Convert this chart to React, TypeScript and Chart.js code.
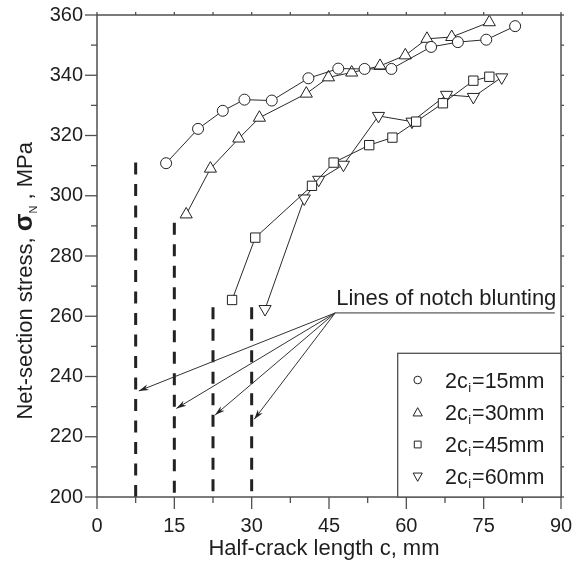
import React, { useEffect, useRef } from 'react';
import { Chart, registerables } from 'chart.js';

Chart.register(...registerables);

// ---------- data ----------
const xMajorTicks = [0, 15, 30, 45, 60, 75, 90];
const yMajorTicks = [200, 220, 240, 260, 280, 300, 320, 340, 360];

const c15 = [13.4, 19.6, 24.4, 28.6, 33.9, 41.0, 46.8, 51.9, 57.1, 64.8, 70.0, 75.5, 81.1];
const s15 = [310.8, 322.2, 328.2, 331.9, 331.6, 339.0, 342.2, 342.1, 342.1, 349.4, 351.0, 351.8, 356.3];

const c30 = [17.3, 22.0, 27.5, 31.5, 40.6, 44.9, 49.4, 54.9, 59.8, 64.0, 68.8, 76.1];
const s30 = [293.8, 309.0, 319.0, 325.9, 333.9, 339.3, 340.9, 343.1, 346.6, 352.1, 352.7, 357.6];

const c45 = [26.2, 30.7, 41.7, 45.9, 52.8, 57.3, 61.9, 67.1, 73.0, 76.1];
const s45 = [265.4, 286.1, 303.3, 311.0, 316.8, 319.3, 324.6, 330.7, 338.2, 339.5];

const c60 = [32.6, 40.2, 43.0, 47.8, 54.6, 61.1, 67.8, 73.0, 78.5];
const s60 = [262.4, 299.1, 305.3, 310.3, 326.5, 324.6, 333.5, 332.8, 339.3];

const seriesLabels = ['15', '30', '45', '60'];

// notch blunting lines
const notchC = [7.5, 15, 22.5, 30];
const notchTop = [311, 291, 263, 263];
const notchBottom = [200, 200, 200, 200];

// annotation (data coordinates)
const noteText = 'Lines of notch blunting';
const noteAnchor = { c: 46.2, s: 261.1 };
const noteLineEndC = 88.8;
const arrowToC = [8.1, 15.4, 22.9, 30.5];
const arrowToS = [235.2, 229.4, 227.2, 225.8];

const FONT = '"Liberation Sans", Arial, Helvetica, sans-serif';
const TEXT = '#1e1e1e';
const AXIS = '#505050';

type Sym = 'circle' | 'up' | 'rect' | 'down';
const symbols: Sym[] = ['circle', 'up', 'rect', 'down'];

function drawSym(ctx: CanvasRenderingContext2D, kind: Sym, x: number, y: number, r: number) {
  ctx.beginPath();
  if (kind === 'circle') {
    ctx.arc(x, y, r, 0, Math.PI * 2);
  } else if (kind === 'rect') {
    ctx.rect(x - r, y - r, 2 * r, 2 * r);
  } else if (kind === 'up') {
    ctx.moveTo(x, y - r * 1.05);
    ctx.lineTo(x + r, y + r * 0.75);
    ctx.lineTo(x - r, y + r * 0.75);
    ctx.closePath();
  } else {
    ctx.moveTo(x, y + r * 1.05);
    ctx.lineTo(x + r, y - r * 0.75);
    ctx.lineTo(x - r, y - r * 0.75);
    ctx.closePath();
  }
  ctx.fillStyle = '#fff';
  ctx.fill();
  ctx.stroke();
}

const decor = {
  id: 'decor',
  afterDraw(chart: any) {
    const { ctx, chartArea: a, scales } = chart;
    const xs = scales.x;
    const ys = scales.y;
    const line = (x1: number, y1: number, x2: number, y2: number) => {
      ctx.beginPath();
      ctx.moveTo(x1, y1);
      ctx.lineTo(x2, y2);
      ctx.stroke();
    };
    ctx.save();

    // frame
    ctx.strokeStyle = AXIS;
    ctx.lineWidth = 1.5;
    ctx.strokeRect(a.left, a.top, a.right - a.left, a.bottom - a.top);

    // ticks (major + minor)
    ctx.lineWidth = 1.3;
    const yAll: { v: number; major: boolean }[] = [];
    yMajorTicks.forEach((v, i) => {
      yAll.push({ v, major: true });
      if (i < yMajorTicks.length - 1) yAll.push({ v: (v + yMajorTicks[i + 1]) / 2, major: false });
    });
    yAll.forEach(({ v, major }) => {
      const py = ys.getPixelForValue(v);
      line(a.left - (major ? 12 : 6), py, a.left, py);
      line(a.right, py, a.right + 3, py);
    });
    const xAll: { v: number; major: boolean }[] = [];
    xMajorTicks.forEach((v, i) => {
      xAll.push({ v, major: true });
      if (i < xMajorTicks.length - 1) xAll.push({ v: (v + xMajorTicks[i + 1]) / 2, major: false });
    });
    xAll.forEach(({ v, major }) => {
      const px = xs.getPixelForValue(v);
      line(px, a.bottom, px, a.bottom + (major ? 12 : 6));
      line(px, a.top - 3, px, a.top);
    });

    // annotation
    const ax = xs.getPixelForValue(noteAnchor.c);
    const ay = ys.getPixelForValue(noteAnchor.s);
    ctx.strokeStyle = '#333';
    ctx.fillStyle = '#222';
    ctx.lineWidth = 1;
    line(ax, ay, xs.getPixelForValue(noteLineEndC), ay);
    arrowToC.forEach((c, i) => {
      const tx = xs.getPixelForValue(c);
      const ty = ys.getPixelForValue(arrowToS[i]);
      line(ax, ay, tx, ty);
      const ang = Math.atan2(ty - ay, tx - ax);
      const L = 10, W = 3;
      ctx.beginPath();
      ctx.moveTo(tx, ty);
      ctx.lineTo(tx - L * Math.cos(ang) + W * Math.sin(ang), ty - L * Math.sin(ang) - W * Math.cos(ang));
      ctx.lineTo(tx - L * 0.7 * Math.cos(ang), ty - L * 0.7 * Math.sin(ang));
      ctx.lineTo(tx - L * Math.cos(ang) - W * Math.sin(ang), ty - L * Math.sin(ang) + W * Math.cos(ang));
      ctx.closePath();
      ctx.fill();
    });
    ctx.fillStyle = TEXT;
    ctx.font = `22px ${FONT}`;
    ctx.textAlign = 'left';
    ctx.textBaseline = 'alphabetic';
    ctx.fillText(noteText, ax + 1, ay - 7.5);

    // legend
    const lx = 397.7, ly = 353.3;
    ctx.fillStyle = '#fff';
    ctx.fillRect(lx, ly, a.right - lx, a.bottom - ly);
    ctx.strokeStyle = AXIS;
    ctx.lineWidth = 1.3;
    ctx.strokeRect(lx, ly, a.right - lx, a.bottom - ly);
    const rowY = [380, 412.5, 444.5, 476.5];
    const symR: Record<Sym, number> = { circle: 3.8, up: 4.6, rect: 3.4, down: 4.6 };
    seriesLabels.forEach((lab, i) => {
      const cy = rowY[i];
      ctx.strokeStyle = '#222';
      ctx.lineWidth = 1;
      drawSym(ctx, symbols[i], 417.7, cy, symR[symbols[i]]);
      ctx.fillStyle = TEXT;
      ctx.textBaseline = 'alphabetic';
      let tx = 445;
      const base = cy + 7.5;
      ctx.font = `21.5px ${FONT}`;
      ctx.fillText('2c', tx, base);
      tx += ctx.measureText('2c').width;
      ctx.font = `13px ${FONT}`;
      ctx.fillText('i', tx + 0.5, base + 4);
      tx += ctx.measureText('i').width + 1.5;
      ctx.font = `21.5px ${FONT}`;
      ctx.fillText(`=${lab}mm`, tx, base);
    });

    // x axis title
    ctx.fillStyle = TEXT;
    ctx.font = `22px ${FONT}`;
    ctx.textAlign = 'center';
    ctx.fillText('Half-crack length c, mm', 324, 555);

    // y axis title (rotated)
    const parts: { t: string; font: string; dy: number }[] = [
      { t: 'Net-section stress, ', font: `22px ${FONT}`, dy: 0 },
      { t: 'σ', font: `bold 26px ${FONT}`, dy: 0 },
      { t: 'N', font: `11px ${FONT}`, dy: 5 },
      { t: ' , MPa', font: `22px ${FONT}`, dy: 0 },
    ];
    let total = 0;
    const widths = parts.map((p) => {
      ctx.font = p.font;
      const w = ctx.measureText(p.t).width;
      total += w;
      return w;
    });
    ctx.save();
    ctx.translate(32, 142 + total);
    ctx.rotate(-Math.PI / 2);
    ctx.textAlign = 'left';
    let px = 0;
    parts.forEach((p, i) => {
      ctx.font = p.font;
      ctx.fillText(p.t, px, p.dy);
      px += widths[i];
    });
    ctx.restore();

    ctx.restore();
  },
};

export default function App() {
  const ref = useRef<HTMLCanvasElement>(null);
  useEffect(() => {
    const canvas = ref.current;
    if (!canvas) return;
    const defs = [
      { c: c15, s: s15, style: 'circle', r: 5.5, rot: 0 },
      { c: c30, s: s30, style: 'triangle', r: 7, rot: 0 },
      { c: c45, s: s45, style: 'rect', r: 6.6, rot: 0 },
      { c: c60, s: s60, style: 'triangle', r: 7, rot: 180 },
    ];
    const datasets: any[] = defs.map((d, i) => ({
      label: seriesLabels[i],
      data: d.c.map((x, k) => ({ x, y: d.s[k] })),
      showLine: true,
      borderColor: '#2a2a2a',
      borderWidth: 1,
      pointStyle: d.style,
      pointRadius: d.r,
      pointRotation: d.rot,
      pointBackgroundColor: '#fff',
      pointBorderColor: '#222',
      pointBorderWidth: 1,
      tension: 0,
      fill: false,
    }));
    notchC.forEach((c, i) => {
      datasets.push({
        label: 'notch' + i,
        data: [
          { x: c, y: notchTop[i] },
          { x: c, y: notchBottom[i] },
        ],
        showLine: true,
        borderColor: '#222',
        borderWidth: 3,
        borderDash: [12, 9.5],
        borderCapStyle: 'butt',
        pointRadius: 0,
        fill: false,
      });
    });

    const chart = new Chart(canvas, {
      type: 'scatter',
      data: { datasets },
      options: {
        animation: false,
        responsive: false,
        maintainAspectRatio: false,
        layout: { padding: { left: 0, top: 15, right: 24, bottom: 0 } },
        plugins: { legend: { display: false }, tooltip: { enabled: false } },
        scales: {
          x: {
            type: 'linear',
            min: xMajorTicks[0],
            max: xMajorTicks[xMajorTicks.length - 1],
            afterFit: (s: any) => {
              s.height = 66;
            },
            afterBuildTicks: (s: any) => {
              s.ticks = xMajorTicks.map((v) => ({ value: v }));
            },
            ticks: {
              font: { family: FONT, size: 20 },
              color: TEXT,
              padding: 6,
              autoSkip: false,
              maxRotation: 0,
            },
            grid: { display: true, drawOnChartArea: false, drawTicks: true, tickLength: 11, tickColor: 'rgba(0,0,0,0)' },
            border: { display: false },
          },
          y: {
            type: 'linear',
            min: yMajorTicks[0],
            max: yMajorTicks[yMajorTicks.length - 1],
            afterFit: (s: any) => {
              s.width = 97;
            },
            afterBuildTicks: (s: any) => {
              s.ticks = yMajorTicks.map((v) => ({ value: v }));
            },
            ticks: {
              font: { family: FONT, size: 20 },
              color: TEXT,
              padding: 3,
              autoSkip: false,
            },
            grid: { display: true, drawOnChartArea: false, drawTicks: true, tickLength: 11, tickColor: 'rgba(0,0,0,0)' },
            border: { display: false },
          },
        },
      },
      plugins: [decor],
    } as any);
    return () => chart.destroy();
  }, []);

  return (
    <div style={{ position: 'absolute', left: 0, top: 0, width: 585, height: 563, background: '#fff' }}>
      <canvas ref={ref} width={585} height={563} style={{ display: 'block' }} />
    </div>
  );
}
